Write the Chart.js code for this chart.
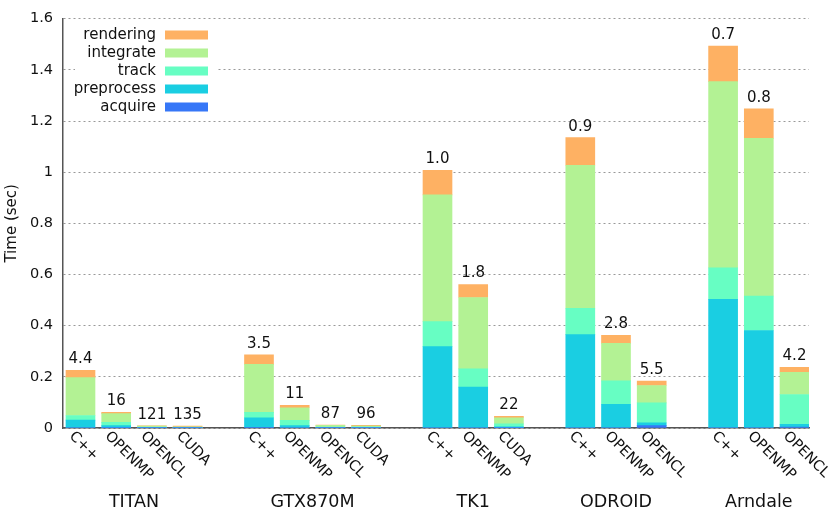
<!DOCTYPE html>
<html>
<head>
<meta charset="utf-8">
<script src="https://cdn.jsdelivr.net/npm/chart.js@4.4.0/dist/chart.umd.min.js"></script>
<style>
  html, body { margin: 0; padding: 0; background: #fff; }
  #wrap { width: 830px; height: 519px; }
</style>
</head>
<body>
<div id="wrap"><canvas id="myChart" width="830" height="519"></canvas></div>
<script>
// bar slots (gaps between devices are empty slots)
const xSlots = [0, 1, 2, 3, 5, 6, 7, 8, 10, 11, 12, 14, 15, 16, 18, 19, 20];
const implLabels = ['C++', 'OPENMP', 'OPENCL', 'CUDA',
                    'C++', 'OPENMP', 'OPENCL', 'CUDA',
                    'C++', 'OPENMP', 'CUDA',
                    'C++', 'OPENMP', 'OPENCL',
                    'C++', 'OPENMP', 'OPENCL'];
const groupNames = ['TITAN', 'GTX870M', 'TK1', 'ODROID', 'Arndale'];
const groupCenters = [1.5, 6.5, 11, 15, 19];
const fpsLabels = ['4.4', '16', '121', '135', '3.5', '11', '87', '96',
                   '1.0', '1.8', '22', '0.9', '2.8', '5.5', '0.7', '0.8', '4.2'];
const yTickLabels = ['0', '0.2', '0.4', '0.6', '0.8', '1', '1.2', '1.4', '1.6'];

// time per stage (sec)
const acquire    = [0.002, 0.001, 0.0005, 0.0004, 0.003, 0.002, 0.0005, 0.0004,
                    0.002, 0.002, 0.001, 0.002, 0.002, 0.009, 0.002, 0.002, 0.004];
const preprocess = [0.029, 0.008, 0.001, 0.001, 0.037, 0.007, 0.0015, 0.001,
                    0.316, 0.158, 0.004, 0.363, 0.091, 0.011, 0.501, 0.379, 0.010];
const track      = [0.018, 0.013, 0.0015, 0.001, 0.021, 0.021, 0.002, 0.002,
                    0.098, 0.071, 0.011, 0.103, 0.091, 0.078, 0.123, 0.135, 0.117];
const integrate  = [0.148, 0.034, 0.0045, 0.002, 0.188, 0.049, 0.006, 0.004,
                    0.495, 0.279, 0.024, 0.559, 0.147, 0.068, 0.728, 0.616, 0.087];
const rendering  = [0.028, 0.005, 0.0008, 0.003, 0.037, 0.010, 0.0015, 0.003,
                    0.096, 0.051, 0.006, 0.108, 0.031, 0.017, 0.139, 0.116, 0.019];

const FONT = '"DejaVu Sans", Verdana, sans-serif';

function toPoints(arr) {
    return arr.map((v, i) => ({x: xSlots[i], y: v}));
}

const series = [
    {label: 'acquire', data: acquire, color: '#3677f7'},
    {label: 'preprocess', data: preprocess, color: '#1acee2'},
    {label: 'track', data: track, color: '#67fec3'},
    {label: 'integrate', data: integrate, color: '#b3f294'},
    {label: 'rendering', data: rendering, color: '#feb163'},
];

let datasets = series.map((s) => ({
    label: s.label,
    data: toPoints(s.data),
    backgroundColor: s.color,
    borderWidth: 0,
    barThickness: 29,
}));

const extras = {
    id: 'extras',
    afterDatasetsDraw(chart) {
        const ctx = chart.ctx;
        const xs = chart.scales.x;
        const ys = chart.scales.y;

        // totals above bars
        ctx.save();
        ctx.font = '15px ' + FONT;
        ctx.fillStyle = '#111';
        ctx.textAlign = 'center';
        ctx.textBaseline = 'alphabetic';
        xSlots.forEach((slot, i) => {
            let total = 0;
            series.forEach((s) => { total += s.data[i]; });
            const px = xs.getPixelForValue(slot);
            const py = ys.getPixelForValue(total);
            ctx.fillText(fpsLabels[i], px, py - 7);
        });
        ctx.restore();

        // legend box, top-left inside plot
        const ca = chart.chartArea;
        ctx.save();
        ctx.fillStyle = '#fff';
        ctx.fillRect(ca.left + 12, ca.top + 4, 142, 96);
        ctx.font = '15px ' + FONT;
        ctx.textAlign = 'right';
        ctx.textBaseline = 'middle';
        const legendOrder = series.slice().reverse();
        legendOrder.forEach((s, k) => {
            const cy = 35 + k * 18;
            ctx.fillStyle = '#111';
            ctx.fillText(s.label, 156, cy);
            ctx.fillStyle = s.color;
            ctx.fillRect(165, cy - 4.5, 43, 9);
        });
        ctx.restore();
    },
    afterDraw(chart) {
        const ctx = chart.ctx;
        const xs = chart.scales.x;
        const ca = chart.chartArea;

        // rotated implementation labels
        ctx.save();
        ctx.font = '14.5px ' + FONT;
        ctx.fillStyle = '#111';
        ctx.textAlign = 'left';
        ctx.textBaseline = 'middle';
        xSlots.forEach((slot, i) => {
            const px = xs.getPixelForValue(slot);
            ctx.save();
            ctx.translate(px - 9, ca.bottom + 6);
            ctx.rotate(Math.PI / 4);
            ctx.fillText(implLabels[i], 0, 0);
            ctx.restore();
        });

        // device names
        ctx.font = '17.5px ' + FONT;
        ctx.textAlign = 'center';
        ctx.textBaseline = 'alphabetic';
        groupCenters.forEach((c, g) => {
            ctx.fillText(groupNames[g], xs.getPixelForValue(c), 507);
        });
        ctx.restore();
    }
};

const ctx = document.getElementById('myChart').getContext('2d');
const myChart = new Chart(ctx, {
    type: 'bar',
    data: {datasets: datasets},
    options: {
        responsive: false,
        animation: false,
        devicePixelRatio: 1,
        layout: {padding: {left: 0, right: 21, top: 17, bottom: 0}},
        plugins: {
            legend: {display: false},
            tooltip: {enabled: false},
        },
        scales: {
            x: {
                type: 'linear',
                stacked: true,
                offset: false,
                min: -0.49,
                max: 20.406,
                ticks: {display: false},
                grid: {display: true, offset: false, drawOnChartArea: false, drawTicks: false},
                border: {display: true, color: '#555', width: 1.5},
                afterFit: (scale) => { scale.height = 91; },
            },
            y: {
                stacked: true,
                min: 0,
                max: 1.6,
                ticks: {
                    stepSize: 0.2,
                    padding: 10,
                    color: '#111',
                    font: {family: FONT, size: 14.5},
                    callback: (v, i) => yTickLabels[i],
                },
                grid: {color: '#999', lineWidth: 1, drawTicks: false},
                border: {display: true, color: '#555', width: 1.5, dash: [2, 3]},
                title: {
                    display: true,
                    text: 'Time (sec)',
                    color: '#111',
                    font: {family: FONT, size: 15},
                    padding: {top: 3, bottom: 4},
                },
                afterFit: (scale) => { scale.width = 63; },
            },
        },
    },
    plugins: [extras],
});
</script>
</body>
</html>
